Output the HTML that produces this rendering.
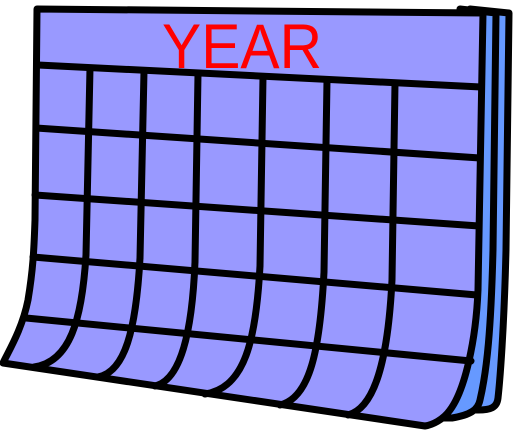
<!DOCTYPE html>
<html><head><meta charset="utf-8"><style>
html,body{margin:0;padding:0;background:#fff;width:518px;height:434px;overflow:hidden}
</style></head><body>
<svg width="518" height="434" viewBox="0 0 518 434">
<g stroke="#000" stroke-width="7" stroke-linejoin="round" stroke-linecap="round">
<path fill="#6699ff" d="M470 9 L509 13 L506 250 C504 330 500 380 498 398 C497 408 490 410 478 410 L470 410 Z"/>
<path fill="#6699ff" d="M460 9 L496 13 L493 250 C491 330 487 370 480 400 C478 410 470 415 452 418 L440 418 Z"/>
<path fill="#9999ff" d="M37 9 L483 13 L478 290 C476 340 465 390 450 410 C443 420 432 425 425 426 L3 363 C8 352 22 330 28 300 C33 270 34 250 35 220 Z"/>
</g>
<text x="242" y="68" text-anchor="middle" font-family="Liberation Sans, sans-serif" font-size="63" fill="#ff0000" textLength="160" lengthAdjust="spacingAndGlyphs">YEAR</text>
<g stroke="#000" stroke-width="7" fill="none" stroke-linecap="round">
<line x1="38" y1="65" x2="481" y2="87"/>
<line x1="36" y1="128" x2="480" y2="158"/>
<line x1="35" y1="195" x2="479" y2="226"/>
<line x1="33" y1="257" x2="477" y2="295"/>
<line x1="26" y1="318" x2="471" y2="361"/>
<path d="M90 68 L86 255 C82 320 70 362 34 367"/>
<path d="M144 71 L140 258 C136 330 125 372 98 377"/>
<path d="M198 74 L195 262 C192 335 180 380 155 386"/>
<path d="M263 77 L260 266 C256 340 245 388 205 394"/>
<path d="M327 80 L324 272 C320 350 310 398 280 405"/>
<path d="M395 83 L392 280 C388 360 375 408 348 415"/>
</g>
</svg>
</body></html>
